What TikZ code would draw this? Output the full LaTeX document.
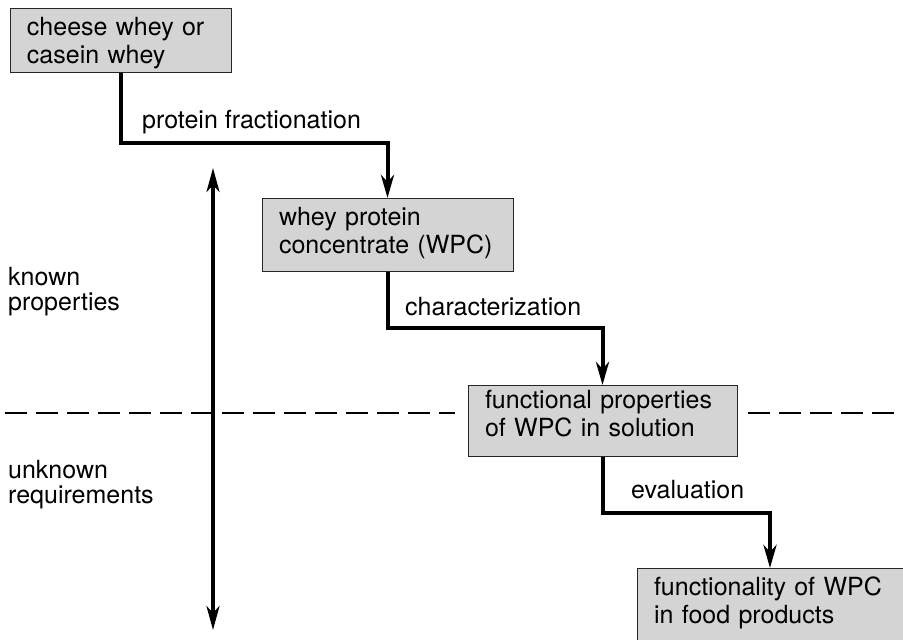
\documentclass[tikz,border=0pt]{standalone}
\usepackage{fontspec}
\setmainfont{TeX Gyre Heros}
\usetikzlibrary{arrows.meta}

\tikzset{
  stage/.style={draw=black!85, line width=0.9pt, fill=black!17,
    anchor=north, align=left, inner xsep=17pt, inner ysep=9pt,
    text height=18pt, font=\fontsize{25}{28}\selectfont},
  flow/.style={line width=4pt, line cap=butt, line join=miter,
    -{Stealth[length=23pt,width=13pt,inset=7pt]}},
  span/.style={line width=3.6pt,
    {Stealth[length=24pt,width=13pt,inset=7pt]}-{Stealth[length=24pt,width=13pt,inset=7pt]}},
  divider/.style={line width=1.1pt, dash pattern=on 22pt off 9pt},
  steplabel/.style={anchor=base west, inner sep=0pt, font=\fontsize{25}{28}\selectfont},
  sidelabel/.style={anchor=base west, inner sep=0pt, align=left,
    font=\fontsize{25}{25}\selectfont},
}

\begin{document}
\begin{tikzpicture}[x=1pt, y=-1pt]
  \clip (0,0) rectangle (903,640);

  % boundary between known properties and unknown requirements
  \draw[divider] (5,413) -- (455,413);
  \draw[divider] (748,413) -- (903,413);

  % process stages
  \node[stage, text width=187pt, text depth=28pt] (b1) at (120.5,8)
    {cheese whey or\\casein whey};
  \node[stage, text width=217pt, text depth=37pt] (b2) at (387.5,198)
    {whey protein\\concentrate (WPC)};
  \node[stage, text width=235pt, text height=14pt, text depth=39pt] (b3) at (602.5,385)
    {functional properties\\of WPC in solution};
  \node[stage, text width=232pt, text depth=36pt] (b4) at (770,568)
    {functionality of WPC\\in food products};

  % steps between stages
  \draw[flow] (b1.south) -- ++(0,70) -| (b2.north);
  \draw[flow] (b2.south) -- ++(0,56) -| (b3.north);
  \draw[flow] (b3.south) -- ++(0,56) -| (b4.north);

  \node[steplabel] (l1) at (142,128) {protein fractionation};
  \node[steplabel] (l2) at (405,315) {characterization};
  \node[steplabel] (l3) at (631,498) {evaluation};

  % vertical axis with its two regions
  \coordinate (axtop) at (213,168);
  \coordinate (axbot) at (213,630);
  \draw[span] (axtop) -- (axbot);

  \node[sidelabel] (known) at (8,310) {known\\properties};
  \node[sidelabel] (unknown) at (8,503) {unknown\\requirements};
\end{tikzpicture}
\end{document}
